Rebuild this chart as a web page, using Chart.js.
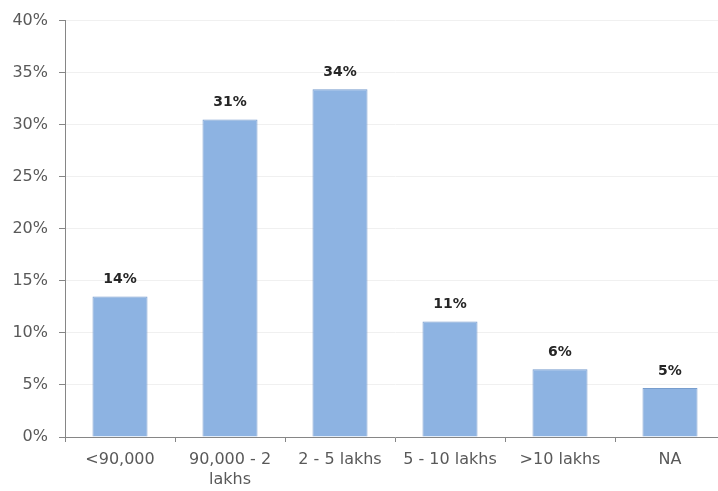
<!DOCTYPE html>
<html>
<head>
<meta charset="utf-8">
<script src="https://cdn.jsdelivr.net/npm/chart.js@4/dist/chart.umd.min.js"></script>
<style>
  html, body { margin: 0; padding: 0; background: #fff; }
  #wrap { width: 718px; height: 491px; overflow: hidden; }
</style>
</head>
<body>
<div id="wrap"><canvas id="c" width="725" height="491"></canvas></div>
<script>
const categories = ["<90,000", ["90,000 - 2", "lakhs"], "2 - 5 lakhs", "5 - 10 lakhs", ">10 lakhs", "NA"];
const shares = [13.5, 30.5, 33.4, 11.1, 6.5, 4.7];
const shareLabels = ["14%", "31%", "34%", "11%", "6%", "5%"];
const yTicks = [0, 5, 10, 15, 20, 25, 30, 35, 40];

// draws the rounded % text above each bar
const barLabels = {
  id: "barLabels",
  afterDatasetsDraw(chart) {
    const ctx = chart.ctx;
    const meta = chart.getDatasetMeta(0);
    ctx.save();
    ctx.font = "bold 14px 'DejaVu Sans'";
    ctx.fillStyle = "#262626";
    ctx.textAlign = "center";
    ctx.textBaseline = "alphabetic";
    meta.data.forEach((bar, i) => {
      ctx.fillText(shareLabels[i], bar.x, bar.y - 13);
    });
    ctx.restore();
  }
};

// canvas is 7px wider than the window: the last category runs past the right edge
new Chart(document.getElementById("c").getContext("2d"), {
  type: "bar",
  data: {
    labels: categories,
    datasets: [{
      data: shares,
      backgroundColor: "#8db3e2",
      borderColor: "#789dcd",
      borderWidth: 1,
      barPercentage: 0.5,
      categoryPercentage: 1.0
    }]
  },
  options: {
    responsive: false,
    animation: false,
    layout: { padding: { top: 17, right: 0, left: 0, bottom: 0 } },
    plugins: { legend: { display: false }, tooltip: { enabled: false } },
    scales: {
      x: {
        grid: { display: true, drawOnChartArea: false, drawTicks: true, tickLength: 5, color: "#868686", offset: true },
        border: { color: "#868686", width: 1 },
        ticks: { color: "#595959", font: { family: "DejaVu Sans", size: 16, lineHeight: 1.3 }, padding: 7, maxRotation: 0, autoSkip: false },
        afterFit(scale) { scale.height = 54; }
      },
      y: {
        min: 0,
        max: 40,
        afterBuildTicks(scale) { scale.ticks = yTicks.map(v => ({ value: v })); },
        grid: { color: "#f0f0f0", tickColor: "#868686", tickLength: 6 },
        border: { color: "#868686", width: 1 },
        ticks: {
          color: "#595959",
          font: { family: "DejaVu Sans", size: 16 },
          padding: 11,
          callback: v => v + "%"
        },
        afterFit(scale) { scale.width = 65; }
      }
    }
  },
  plugins: [barLabels]
});
</script>
</body>
</html>
